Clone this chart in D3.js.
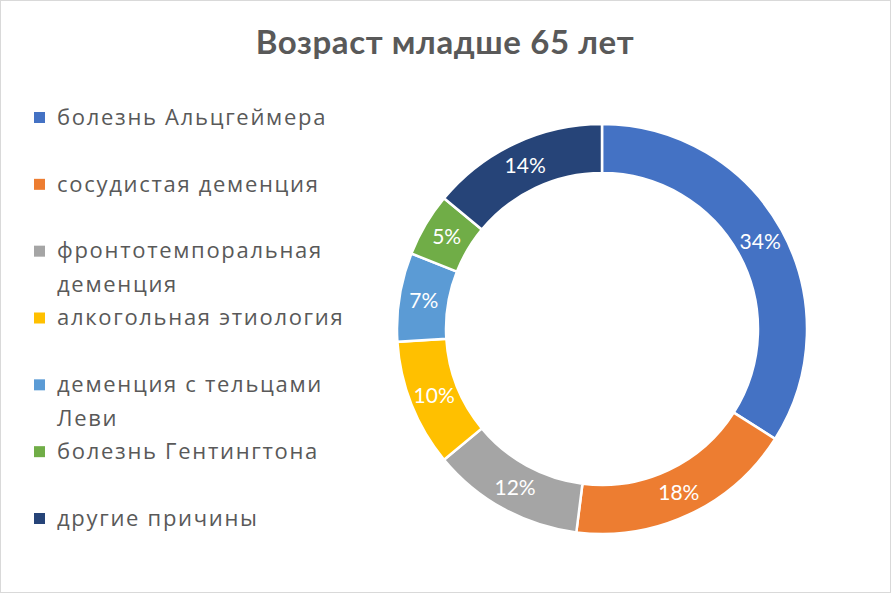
<!DOCTYPE html>
<html>
  <head>
    <meta charset="utf-8">
    <title>Возраст младше 65 лет</title>
    <script src="https://d3js.org/d3.v7.min.js"></script>
    <style>
      body { margin: 0; background: #fff; }
      #chart { display: block; }
      .title { font-family: Lato, "Open Sans", sans-serif; font-weight: bold; fill: #595959; }
      .legend text { font-family: "Open Sans", "Noto Sans", sans-serif; fill: #595959; letter-spacing: 1.7px; }
      .label { font-family: Lato, "Open Sans", sans-serif; fill: #fff; }
    </style>
  </head>
  <body>
    <svg id="chart" width="891" height="593"></svg>
    <script>
      // data
      var categories = ["болезнь Альцгеймера", "сосудистая деменция", "фронтотемпоральная деменция",
        "алкогольная этиология", "деменция с тельцами Леви", "болезнь Гентингтона", "другие причины"];
      var shares = [34, 18, 12, 10, 7, 5, 14];
      var colours = ["#4472C4", "#ED7D31", "#A5A5A5", "#FFC000", "#5B9BD5", "#70AD47", "#264478"];
      var title = "Возраст младше 65 лет";

      var width = 891, height = 593;
      var cx = 602, cy = 329, outerR = 205, innerR = 156;

      var chart = d3.select("#chart");
      // frame
      chart.append("rect")
        .attr("x", 0.5).attr("y", 0.5)
        .attr("width", width - 1).attr("height", height - 1)
        .attr("fill", "#fff").attr("stroke", "#d9d9d9");

      chart.append("text")
        .attr("class", "title")
        .attr("x", 445).attr("y", 54)
        .attr("text-anchor", "middle")
        .style("font-size", "33px")
        .style("letter-spacing", "0.6px")
        .text(title);

      var rows = categories.map(function(c, i) { return { name: c, value: shares[i], colour: colours[i] }; });

      // donut
      var pie = d3.pie().sort(null).value(function(d) { return d.value; });
      var arc = d3.arc().innerRadius(innerR).outerRadius(outerR);
      var labelArc = d3.arc().innerRadius((innerR + outerR) / 2).outerRadius((innerR + outerR) / 2);
      var donut = chart.append("g").attr("transform", "translate(" + cx + "," + cy + ")");
      var slices = donut.selectAll("g").data(pie(rows)).enter().append("g");
      slices.append("path")
        .attr("d", arc)
        .attr("fill", function(d) { return d.data.colour; })
        .attr("stroke", "#fff")
        .attr("stroke-width", 2.5);
      slices.append("text")
        .attr("class", "label")
        .attr("transform", function(d) { return "translate(" + labelArc.centroid(d) + ")"; })
        .attr("text-anchor", "middle")
        .attr("dy", "0.35em")
        .style("font-size", "21px")
        .text(function(d) { return d3.format(".0%")(d.data.value / 100); });

      // legend
      var legendY = d3.scalePoint().domain(d3.range(rows.length)).range([117, 518]);
      var legend = chart.append("g").attr("class", "legend");
      var item = legend.selectAll("g").data(rows).enter().append("g")
        .attr("transform", function(d, i) { return "translate(34," + legendY(i) + ")"; });
      item.append("rect")
        .attr("x", 0).attr("y", -5)
        .attr("width", 11).attr("height", 11)
        .attr("fill", function(d) { return d.colour; });
      item.each(function(d) {
        var g = d3.select(this);
        var words = d.name.split(" ");
        var lines = [], line = [];
        var probe = g.append("text").style("font-size", "22px");
        words.forEach(function(w) {
          var test = line.concat([w]).join(" ");
          probe.text(test);
          if (line.length && probe.node().getComputedTextLength() > 295) {
            lines.push(line.join(" "));
            line = [w];
          } else {
            line.push(w);
          }
        });
        lines.push(line.join(" "));
        probe.remove();
        var text = g.append("text").style("font-size", "22px");
        lines.forEach(function(l, k) {
          text.append("tspan")
            .attr("x", 23)
            .attr("y", k * 34)
            .attr("dy", "0.35em")
            .text(l);
        });
      });
    </script>
  </body>
</html>
